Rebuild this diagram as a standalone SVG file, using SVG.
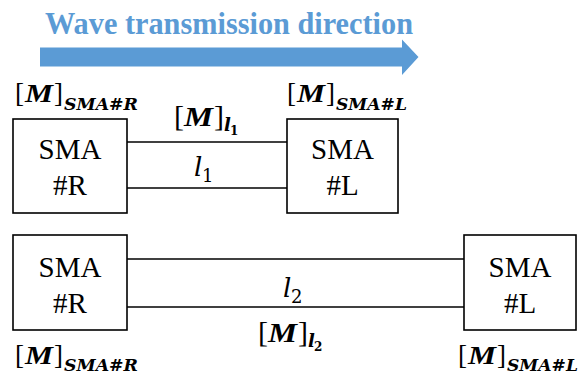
<svg xmlns="http://www.w3.org/2000/svg" width="578" height="376" viewBox="0 0 578 376">
<style>
.box{fill:#fff;stroke:#000;stroke-width:1.6}
.ln{stroke:#000;stroke-width:1.6;fill:none}
.sma{font-family:"Liberation Serif","Times New Roman",serif;font-size:29px;fill:#000;text-anchor:middle}
.br{font-family:"Liberation Serif","Times New Roman",serif;font-size:27px;fill:#000}
.mm{font-family:"Liberation Serif","Times New Roman",serif;font-size:26px;font-weight:bold;font-style:italic;fill:#000}
.sub{font-family:"DejaVu Serif",serif;font-size:17px;font-weight:bold;font-style:italic;fill:#000}
.li{font-family:"DejaVu Serif",serif;font-size:26px;font-style:italic;fill:#000}
.n1{font-family:"DejaVu Serif",serif;font-size:18px;fill:#000}
.lsub{font-family:"DejaVu Serif",serif;font-size:18px;font-weight:bold;font-style:italic;fill:#000}
.nsub{font-family:"DejaVu Serif",serif;font-size:12px;font-weight:bold;fill:#000}
.title{font-family:"Liberation Serif","Times New Roman",serif;font-size:31px;font-weight:bold;fill:#5B9BD5}
</style>
<g id="direction">
<text class="title" x="45" y="34" textLength="368" lengthAdjust="spacingAndGlyphs">Wave transmission direction</text>
<polygon points="40,47.5 402,47.5 402,39.5 418.5,57 402,75 402,66.5 40,66.5" fill="#5B9BD5"/>
</g>
<g id="connectors">
<line class="ln" x1="127" y1="142" x2="288" y2="142"/>
<line class="ln" x1="127" y1="188" x2="288" y2="188"/>
<line class="ln" x1="127" y1="259" x2="464" y2="259"/>
<line class="ln" x1="127" y1="307" x2="464" y2="307"/>
</g>
<g id="smaR1">
<rect class="box" x="13" y="119" width="114" height="94"/>
<text class="sma" x="70" y="159">SMA</text>
<text class="sma" x="70" y="195">#R</text>
</g>
<g id="smaL1">
<rect class="box" x="287" y="119" width="111" height="94"/>
<text class="sma" x="342.5" y="159">SMA</text>
<text class="sma" x="342.5" y="195">#L</text>
</g>
<g id="smaR2">
<rect class="box" x="13" y="235" width="114" height="95"/>
<text class="sma" x="70" y="277">SMA</text>
<text class="sma" x="70" y="313">#R</text>
</g>
<g id="smaL2">
<rect class="box" x="464" y="235" width="112" height="95"/>
<text class="sma" x="520" y="277">SMA</text>
<text class="sma" x="520" y="313">#L</text>
</g>
<g id="labels">
<g transform="translate(15,102)">
<text class="br" x="0" y="0">[</text><text class="mm" x="10" y="0" textLength="28" lengthAdjust="spacingAndGlyphs">M</text><text class="br" x="39" y="0">]</text>
<text class="sub" x="49" y="8" textLength="74" lengthAdjust="spacingAndGlyphs">SMA#R</text>
</g>
<g transform="translate(287,102)">
<text class="br" x="0" y="0">[</text><text class="mm" x="10" y="0" textLength="28" lengthAdjust="spacingAndGlyphs">M</text><text class="br" x="39" y="0">]</text>
<text class="sub" x="49" y="8" textLength="71" lengthAdjust="spacingAndGlyphs">SMA#L</text>
</g>
<g transform="translate(174,126)">
<text class="br" x="0" y="0" style="font-size:30px">[</text><text class="mm" x="10" y="0" textLength="29" lengthAdjust="spacingAndGlyphs" style="font-size:28px">M</text><text class="br" x="40" y="0" style="font-size:30px">]</text>
<text class="lsub" x="50" y="5">l</text><text class="nsub" x="56" y="9">1</text>
</g>
<text class="li" x="194" y="176">l</text><text class="n1" x="202" y="181.5">1</text>
<text class="li" x="283" y="297">l</text><text class="n1" x="291" y="302.5">2</text>
<g transform="translate(258,342)">
<text class="br" x="0" y="0" style="font-size:30px">[</text><text class="mm" x="10" y="0" textLength="29" lengthAdjust="spacingAndGlyphs" style="font-size:28px">M</text><text class="br" x="40" y="0" style="font-size:30px">]</text>
<text class="lsub" x="50" y="5">l</text><text class="nsub" x="56" y="9">2</text>
</g>
<g transform="translate(15,364)">
<text class="br" x="0" y="0">[</text><text class="mm" x="10" y="0" textLength="28" lengthAdjust="spacingAndGlyphs">M</text><text class="br" x="39" y="0">]</text>
<text class="sub" x="49" y="7" textLength="74" lengthAdjust="spacingAndGlyphs">SMA#R</text>
</g>
<g transform="translate(458,364)">
<text class="br" x="0" y="0">[</text><text class="mm" x="10" y="0" textLength="28" lengthAdjust="spacingAndGlyphs">M</text><text class="br" x="39" y="0">]</text>
<text class="sub" x="49" y="7" textLength="71" lengthAdjust="spacingAndGlyphs">SMA#L</text>
</g>
</g>
</svg>
